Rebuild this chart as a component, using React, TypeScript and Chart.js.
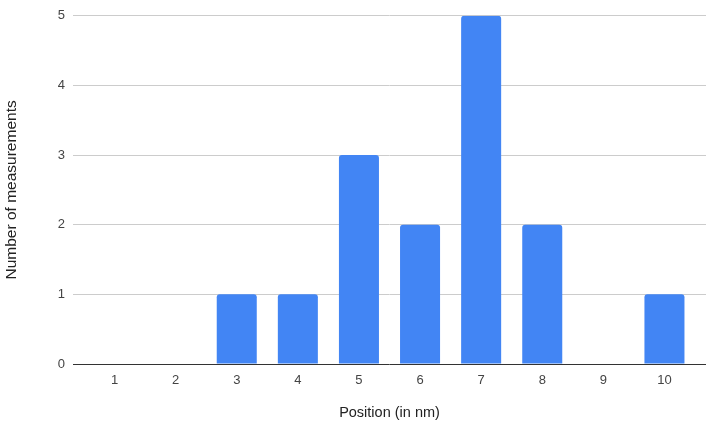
import React, { useEffect, useRef } from "react";
import { Chart, registerables } from "chart.js";

Chart.register(...registerables);

const positions = [1, 2, 3, 4, 5, 6, 7, 8, 9, 10];
const counts = [0, 0, 1, 1, 3, 2, 5, 2, 0, 1];
const xTitle = "Position (in nm)";
const yTitle = "Number of measurements";

export default function App() {
  const ref = useRef<HTMLCanvasElement | null>(null);
  useEffect(() => {
    document.body.style.margin = "0";
    const font = "'Liberation Sans', Arial, sans-serif";
    const chart = new Chart(ref.current as HTMLCanvasElement, {
      type: "bar",
      data: {
        datasets: [
          {
            data: positions.map((p, i) => ({ x: p, y: counts[i] })),
            backgroundColor: "#4285F4",
            borderRadius: 3,
            borderSkipped: "start",
            barPercentage: 0.655,
            categoryPercentage: 1,
          },
        ],
      },
      options: {
        animation: false,
        responsive: false,
        maintainAspectRatio: false,
        layout: { padding: { left: 0, top: 14, right: 20, bottom: 0 } },
        plugins: { legend: { display: false }, tooltip: { enabled: false } },
        scales: {
          x: {
            type: "linear",
            min: 0.32,
            max: 10.68,
            offset: false,
            grid: { display: false, drawTicks: false },
            border: { display: false },
            afterBuildTicks: (s: any) => {
              s.ticks = positions.map((v) => ({ value: v }));
            },
            afterFit: (s: any) => {
              s.height = 59;
            },
            ticks: {
              color: "#444",
              font: { family: font, size: 13 },
              padding: 9,
              maxRotation: 0,
              autoSkip: false,
              callback: (v: any) => String(v),
            },
            title: {
              display: true,
              text: xTitle,
              color: "#222",
              font: { family: font, size: 14.5 },
              padding: { top: 0, bottom: 1 },
            },
          },
          y: {
            min: 0,
            max: 5,
            grid: {
              drawTicks: false,
              color: (c: any) => (c.tick && c.tick.value === 0 ? "#333" : "#ccc"),
              lineWidth: 1,
            },
            border: { display: false },
            afterFit: (s: any) => {
              s.width = 73;
            },
            ticks: {
              stepSize: 1,
              color: "#444",
              font: { family: font, size: 13 },
              padding: 8,
            },
            title: {
              display: true,
              text: yTitle,
              color: "#222",
              font: { family: font, size: 15.5 },
              padding: { top: 2, bottom: 0 },
            },
          },
        },
      },
    } as any);
    return () => chart.destroy();
  }, []);
  return (
    <div style={{ position: "absolute", left: 0, top: 0, width: 726, height: 423 }}>
      <canvas ref={ref} width={726} height={423} style={{ width: 726, height: 423 }} />
    </div>
  );
}
